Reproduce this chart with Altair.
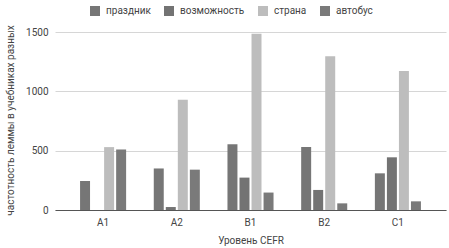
import altair as alt
import pandas as pd

levels = ["A1", "A2", "B1", "B2", "C1"]
series = ["праздник", "возможность", "страна", "автобус"]
prazdnik = [245, 350, 554, 531, 309]
vozmozhnost = [0, 25, 273, 169, 444]
strana = [530, 930, 1486, 1295, 1171]
avtobus = [510, 340, 147, 56, 73]
colors = ["#767676", "#737373", "#bdbdbd", "#7a7a7a"]

rows = []
for name, vals in zip(series, [prazdnik, vozmozhnost, strana, avtobus]):
    for lvl, v in zip(levels, vals):
        rows.append({"level": lvl, "series": name, "value": v})
df = pd.DataFrame(rows)

FONT = "Roboto"

chart = alt.Chart(df).mark_bar().encode(
    x=alt.X("level:N", sort=levels,
            scale=alt.Scale(paddingInner=0.375, paddingOuter=0.34),
            axis=alt.Axis(title="Уровень CEFR", labelAngle=0, ticks=False,
                          domain=True, domainColor="#555555", domainWidth=1,
                          labelPadding=7, labelFontSize=10, labelColor="#444444",
                          titleFontSize=10, titleFontWeight="normal",
                          titleColor="#444444", titlePadding=8)),
    xOffset=alt.XOffset("series:N", sort=series,
                        scale=alt.Scale(paddingInner=0.17, paddingOuter=0)),
    y=alt.Y("value:Q", scale=alt.Scale(domain=[0, 1500], nice=False),
            axis=alt.Axis(values=[0, 500, 1000, 1500], format="d", ticks=False,
                          domain=False, gridColor="#d6d6d6", labelPadding=7,
                          labelFontSize=10, labelColor="#444444",
                          title="частотность леммы в учебниках разных",
                          titleFontSize=10, titleFontWeight="normal",
                          titleColor="#444444", titleX=-45, titleY=88,
                          titleAngle=270, titleAlign="center",
                          titleBaseline="middle")),
    color=alt.Color("series:N", sort=series,
                    scale=alt.Scale(domain=series, range=colors),
                    legend=alt.Legend(title=None, orient="none", direction="horizontal",
                                      legendX=35, legendY=-26, symbolType="square",
                                      symbolSize=100, symbolStrokeWidth=0,
                                      labelFontSize=10, labelColor="#444444",
                                      labelOffset=6, columnPadding=13)),
).properties(
    width=391, height=178,
    padding={"left": 55, "top": 32, "right": 3, "bottom": 38},
    autosize=alt.AutoSizeParams(type="none"),
).configure(font=FONT).configure_view(stroke=None)

chart.save("out.html", embed_options={"renderer": "svg", "actions": False})
